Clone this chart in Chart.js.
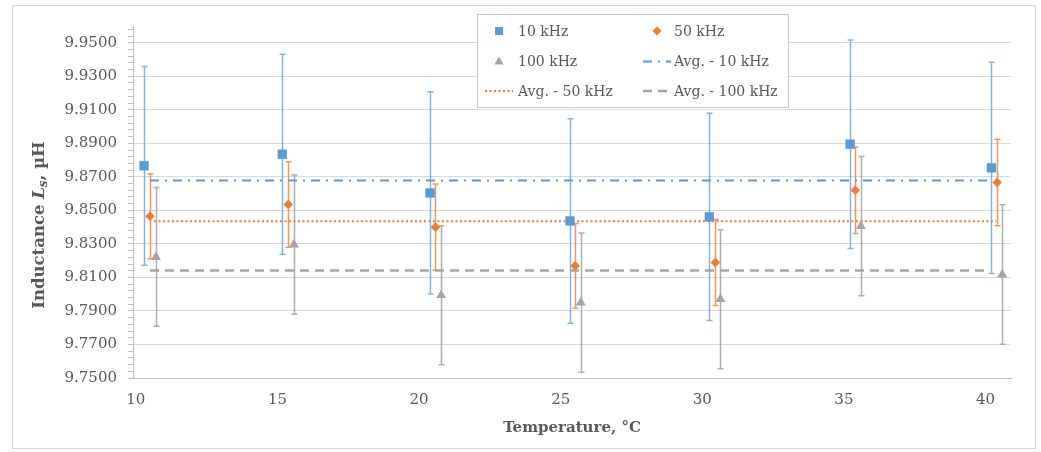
<!DOCTYPE html>
<html lang="en">
<head>
  <meta charset="UTF-8">
  <title>Inductance vs temperature</title>
  <script src="https://cdn.jsdelivr.net/npm/chart.js@4.4.1/dist/chart.umd.min.js"></script>
  <style>
    html, body { margin: 0; padding: 0; background: #fff; }
    #wrap { width: 1041px; height: 452px; }
  </style>
</head>
<body>
<div id="wrap"><canvas id="chart" width="1041" height="452"></canvas></div>
<script>
// measured temperatures (x) for each frequency
const t10  = [10.29, 15.17, 20.39, 25.33, 30.25, 35.22, 40.21];
const t50  = [10.50, 15.38, 20.58, 25.51, 30.46, 35.40, 40.41];
const t100 = [10.71, 15.58, 20.78, 25.71, 30.64, 35.60, 40.59];
// inductance, uH
const l10  = [9.8766, 9.8835, 9.8604, 9.8437, 9.8461, 9.8895, 9.8754];
const l50  = [9.8465, 9.8535, 9.8400, 9.8169, 9.8189, 9.8620, 9.8667];
const l100 = [9.8222, 9.8296, 9.7994, 9.7950, 9.7970, 9.8406, 9.8117];
// +/- error
const err10  = [0.0593, 0.0597, 0.0603, 0.0610, 0.0618, 0.0622, 0.0630];
const err50  = [0.0254, 0.0255, 0.0257, 0.0253, 0.0256, 0.0258, 0.0258];
const err100 = [0.0414, 0.0415, 0.0415, 0.0415, 0.0415, 0.0415, 0.0416];
// averages and the x range they are drawn over
const avg10 = 9.8679, avg50 = 9.8435, avg100 = 9.8141;
const avgX10 = [10.50, 40.19];
const avgX50 = [10.64, 40.38];
const avgX100 = [10.50, 40.16];

const labels = ['10 kHz', '50 kHz', '100 kHz', 'Avg. - 10 kHz', 'Avg. - 50 kHz', 'Avg. - 100 kHz'];
const xTicks = [10, 15, 20, 25, 30, 35, 40];
const yMajor = [9.75, 9.77, 9.79, 9.81, 9.83, 9.85, 9.87, 9.89, 9.91, 9.93, 9.95];

const BLUE = '#5b9bd5', ORANGE = '#ed7d31', GRAY = '#a5a5a5';
const TXT = '#595959';
const FONT = '"DejaVu Serif", "Liberation Serif", serif';

const pts = (xs, ys) => xs.map((x, i) => ({ x: x, y: ys[i] }));
const flat = (xs, v) => xs.map(x => ({ x: x, y: v }));

const isMajor = v => yMajor.some(m => Math.abs(m - v) < 1e-6);

// error bars under the markers
const errorBars = {
  id: 'errorBars',
  beforeDatasetsDraw(chart) {
    const ctx = chart.ctx, xs = chart.scales.x, ys = chart.scales.y;
    const sets = [[t10, l10, err10, 'rgba(91,155,213,0.75)'],
                  [t50, l50, err50, 'rgba(237,125,49,0.8)'],
                  [t100, l100, err100, 'rgba(150,150,150,0.75)']];
    ctx.save();
    ctx.lineWidth = 1.5;
    sets.forEach(s => {
      ctx.strokeStyle = s[3];
      s[0].forEach((t, i) => {
        const px = Math.round(xs.getPixelForValue(t)) + 0.5;
        const top = ys.getPixelForValue(s[1][i] + s[2][i]);
        const bot = ys.getPixelForValue(s[1][i] - s[2][i]);
        ctx.beginPath();
        ctx.moveTo(px, top); ctx.lineTo(px, bot);
        ctx.moveTo(px - 3, top); ctx.lineTo(px + 3, top);
        ctx.moveTo(px - 3, bot); ctx.lineTo(px + 3, bot);
        ctx.stroke();
      });
    });
    ctx.restore();
  }
};

// frame, axis titles and the boxed two-column legend
const decor = {
  id: 'decor',
  beforeDraw(chart) {
    const ctx = chart.ctx;
    ctx.save();
    ctx.fillStyle = '#fff';
    ctx.fillRect(0, 0, chart.width, chart.height);
    ctx.strokeStyle = '#d9d9d9';
    ctx.lineWidth = 1;
    ctx.strokeRect(12.5, 5.5, 1023, 443);
    ctx.restore();
  },
  afterDraw(chart) {
    const ctx = chart.ctx;
    ctx.save();
    ctx.fillStyle = TXT;
    // x title
    ctx.font = 'bold 15px ' + FONT;
    ctx.textAlign = 'center';
    ctx.textBaseline = 'middle';
    ctx.fillText('Temperature, °C', 572, 428);
    // y title with italic subscript
    const parts = [['Inductance ', 'bold 16.5px ' + FONT, 0],
                   ['L', 'italic bold 16.5px ' + FONT, 0],
                   ['s', 'italic bold 12px ' + FONT, 4],
                   [', µH', 'bold 16.5px ' + FONT, 0]];
    let total = 0;
    parts.forEach(p => { ctx.font = p[1]; total += ctx.measureText(p[0]).width; });
    ctx.translate(40, 225);
    ctx.rotate(-Math.PI / 2);
    ctx.textAlign = 'left';
    let cx = -total / 2;
    parts.forEach(p => {
      ctx.font = p[1];
      ctx.fillText(p[0], cx, p[2]);
      cx += ctx.measureText(p[0]).width;
    });
    ctx.restore();

    // legend
    ctx.save();
    ctx.fillStyle = '#fff';
    ctx.fillRect(477, 14, 311, 93);
    ctx.strokeStyle = '#c8c8c8';
    ctx.lineWidth = 1;
    ctx.strokeRect(477.5, 14.5, 311, 93);
    const colX = [499, 657], textX = [518, 674], rowY = [31, 61.5, 91];
    ctx.font = '14px ' + FONT;
    ctx.textBaseline = 'middle';
    ctx.textAlign = 'left';
    chart.data.datasets.forEach((ds, i) => {
      const c = i % 2, r = Math.floor(i / 2);
      const mx = colX[c], my = rowY[r];
      ctx.fillStyle = ds.backgroundColor;
      ctx.strokeStyle = ds.borderColor;
      if (ds.pointStyle === 'rect') {
        ctx.fillRect(mx - 4, my - 4, 8, 8);
      } else if (ds.pointStyle === 'rectRot') {
        ctx.beginPath();
        ctx.moveTo(mx - 4.5, my); ctx.lineTo(mx, my - 4.5);
        ctx.lineTo(mx + 4.5, my); ctx.lineTo(mx, my + 4.5);
        ctx.closePath(); ctx.fill();
      } else if (ds.pointStyle === 'triangle') {
        ctx.beginPath();
        ctx.moveTo(mx, my - 5); ctx.lineTo(mx + 4.5, my + 3);
        ctx.lineTo(mx - 4.5, my + 3);
        ctx.closePath(); ctx.fill();
      } else {
        ctx.lineWidth = ds.borderWidth;
        ctx.setLineDash(ds.borderDash);
        ctx.beginPath();
        ctx.moveTo(mx - 14, my); ctx.lineTo(mx + 14, my);
        ctx.stroke();
        ctx.setLineDash([]);
      }
      ctx.fillStyle = TXT;
      ctx.fillText(ds.label, textX[c], my + 1);
    });
    ctx.restore();
  }
};

const markerSet = (label, xs, ys, color, style, radius) => ({
  label: label,
  data: pts(xs, ys),
  showLine: false,
  backgroundColor: color,
  borderColor: color,
  pointStyle: style,
  pointRadius: radius,
  pointBorderWidth: 0,
  pointHoverRadius: radius
});

const lineSet = (label, xs, v, color, dash, width) => ({
  label: label,
  data: flat(xs, v),
  showLine: true,
  backgroundColor: color,
  borderColor: color,
  borderWidth: width,
  borderDash: dash,
  pointRadius: 0,
  fill: false
});

const chart = new Chart(document.getElementById('chart').getContext('2d'), {
  type: 'scatter',
  data: {
    datasets: [
      markerSet(labels[0], t10, l10, BLUE, 'rect', 6.6),
      markerSet(labels[1], t50, l50, ORANGE, 'rectRot', 4.8),
      markerSet(labels[2], t100, l100, GRAY, 'triangle', 5.8),
      lineSet(labels[3], avgX10, avg10, BLUE, [9, 6, 2, 6], 2),
      lineSet(labels[4], avgX50, avg50, ORANGE, [2, 2.5], 2),
      lineSet(labels[5], avgX100, avg100, GRAY, [9, 6], 2.5)
    ]
  },
  options: {
    responsive: false,
    animation: false,
    layout: { padding: { top: 26, right: 30, left: 0, bottom: 0 } },
    plugins: { legend: { display: false }, tooltip: { enabled: false } },
    scales: {
      x: {
        type: 'linear',
        min: 9.9,
        max: 40.9,
        afterBuildTicks: s => { s.ticks = xTicks.map(v => ({ value: v })); },
        afterFit: s => { s.height = 74; },
        grid: { display: false, drawTicks: false },
        border: { color: '#bfbfbf', width: 1 },
        ticks: { padding: 13, color: TXT, font: { family: FONT, size: 15 }, maxRotation: 0 }
      },
      y: {
        type: 'linear',
        min: 9.75,
        max: 9.96,
        afterBuildTicks: s => {
          const t = [];
          for (let i = 0; i <= 52; i++) t.push({ value: 9.75 + i * 0.004 });
          s.ticks = t;
        },
        afterFit: s => { s.width = 133; },
        grid: {
          color: c => (c.tick && isMajor(c.tick.value)) ? '#d9d9d9' : 'rgba(0,0,0,0)',
          tickColor: '#bfbfbf',
          tickLength: 5,
          lineWidth: 1
        },
        border: { color: '#bfbfbf', width: 1 },
        ticks: {
          autoSkip: false,
          padding: 11,
          color: TXT,
          font: { family: FONT, size: 15 },
          callback: v => isMajor(v) ? v.toFixed(4) : ''
        }
      }
    }
  },
  plugins: [errorBars, decor]
});
</script>
</body>
</html>
